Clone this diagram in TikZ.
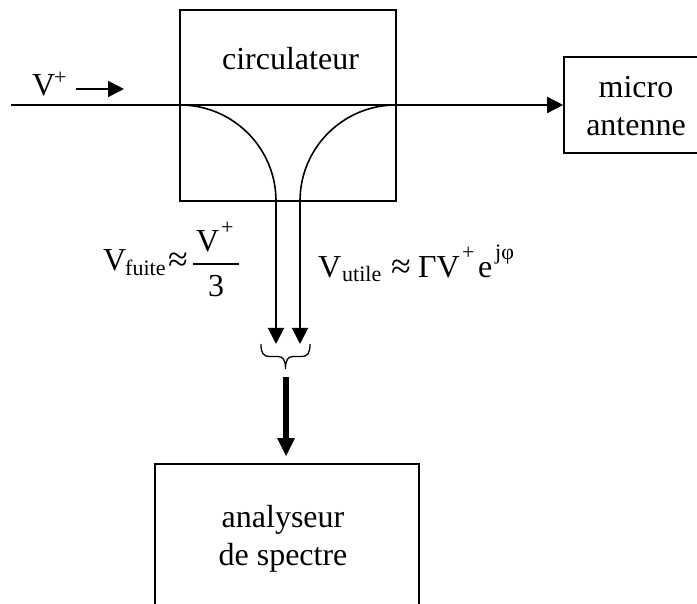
\documentclass[tikz,border=0pt]{standalone}
\usepackage{fontspec}
\setmainfont{Liberation Serif}
\usetikzlibrary{arrows.meta}
\tikzset{
  ln/.style={line width=1.6pt,draw=black},
  arr/.style={ln,-{Triangle[length=16pt,width=16pt]}},
  boxn/.style={ln,rectangle,inner sep=0pt},
  lab/.style={inner sep=0pt,align=center,font=\fontsize{32}{38.5}\selectfont},
  txt/.style={inner sep=0pt,anchor=base west,font=\fontsize{32}{38}\selectfont},
  apx/.style={inner sep=0pt,anchor=base west,font=\fontsize{36}{38}\selectfont},
  sm/.style={inner sep=0pt,anchor=base west,font=\fontsize{22}{24}\selectfont},
}
\begin{document}
\begin{tikzpicture}[x=1pt,y=-1pt]
\useasboundingbox (0,0) rectangle (697,604);
\clip (0,0) rectangle (697,604);
\fill[white] (0,0) rectangle (697,604);
% boxes
\node[boxn,minimum width=216pt,minimum height=191pt] (circ) at (288,105.5) {};
\node[txt,anchor=base] (circlab) at (290.5,70) {circulateur};
\node[boxn,minimum width=148pt,minimum height=96pt] (micro) at (638,105) {};
\node[lab] (microlab) at (636,106) {micro\\antenne};
\node[boxn,minimum width=264pt,minimum height=150pt] (ana) at (287,539) {};
\node[lab] (analab) at (283,539) {analyseur\\de spectre};
% junction points
\coordinate (in) at (11,105);
\coordinate (jl) at (180,105);
\coordinate (jr) at (396,105);
\coordinate (bl) at (276,201);
\coordinate (br) at (300,201);
\coordinate (tl) at (276,344);
\coordinate (tr) at (300,344);
% main line and curves
\draw[arr] (in) -- (micro.west);
\draw[ln] (jl) .. controls (233,105) and (276,148) .. (bl);
\draw[ln] (jr) .. controls (343,105) and (300,148) .. (br);
\draw[arr] (bl) -- (tl);
\draw[arr] (br) -- (tr);
% V+ arrow
\coordinate (va) at (76,89);
\coordinate (vb) at (124,89);
\draw[arr] (va) -- (vb);
\node[txt] (vp) at (32,96) {V};
\node[sm] (vpp) at (54,85) {+};
% brace
\coordinate (bra) at (261,344);
\coordinate (brb) at (310,344);
\coordinate (brc) at (285.5,369);
\draw[line width=1.3pt] (bra) .. controls (261,353) and (263,356.5) .. (270,356.5)
  -- (278,356.5) .. controls (283,356.5) and (285.5,360) .. (brc)
  .. controls (285.5,360) and (288,356.5) .. (293,356.5)
  -- (301,356.5) .. controls (308,356.5) and (310,353) .. (brb);
% thick arrow
\coordinate (ta) at (286,377);
\coordinate (tb) at (286,456);
\draw[line width=6.5pt,-{Triangle[length=18pt,width=18pt,line width=0pt]}] (ta) -- (tb);
% V fuite
\node[txt] (vf) at (103,271) {V};
\node[sm] (vfs) at (125,276) {fuite};
\node[apx] (vfa) at (168,272) {≈};
\node[txt] (vfn) at (196,252) {V};
\node[sm] (vfp) at (221,235) {+};
\node[txt,anchor=base] (vfd) at (216,297) {3};
\coordinate (fa) at (193,264);
\coordinate (fb) at (239,264);
\draw[line width=1.2pt] (fa) -- (fb);
% V utile
\node[txt] (vu) at (318,278) {V};
\node[sm] (vus) at (342,282) {utile};
\node[apx] (vua) at (391,279) {≈};
\node[txt] (vug) at (418,278) {ΓV};
\node[sm] (vup) at (462,260) {+};
\node[txt] (vue) at (478,278) {e};
\node[sm] (vuj) at (495,260) {jφ};
\end{tikzpicture}
\end{document}
